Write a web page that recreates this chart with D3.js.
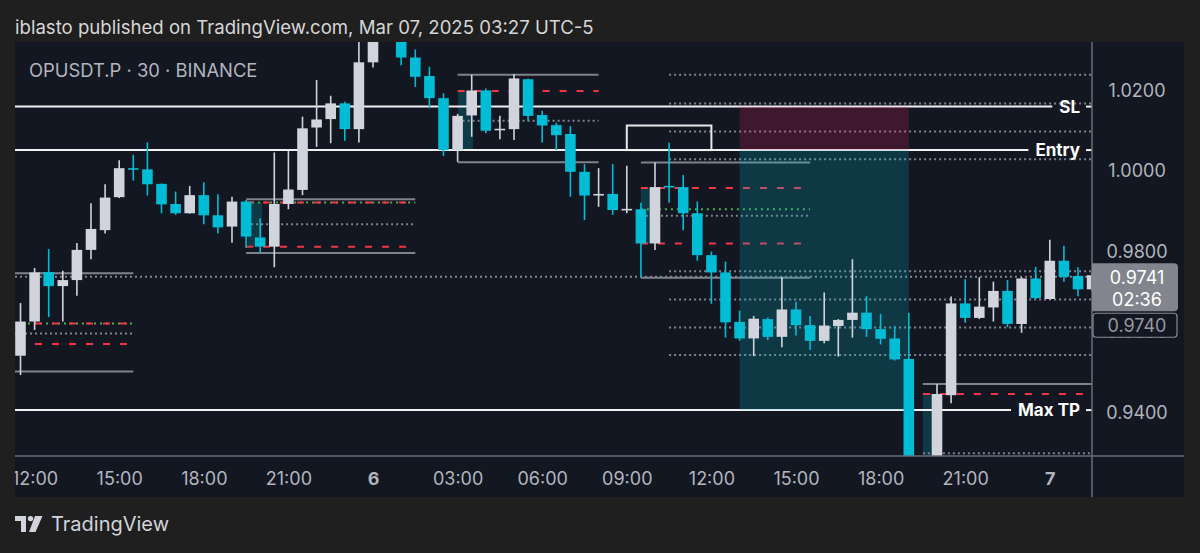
<!DOCTYPE html>
<html><head><meta charset="utf-8">
<script src="https://cdn.jsdelivr.net/npm/d3@7"></script>
<style>html,body{margin:0;padding:0;background:#1f1f1f;overflow:hidden}
text{font-family:Inter,"Noto Sans",sans-serif}</style>
</head><body><svg id="c" width="1200" height="553"></svg>
<script>
// ---------- DATA ----------
const candleStart = "2025-03-05T11:30:00Z"; // 30-minute candles
const opens = [0.9541,0.9626,0.9749,0.9714,0.9729,0.9804,0.9853,0.9935,1.0007,1.0004,0.9968,0.9918,0.9895,0.9940,0.9890,0.9862,0.9924,0.9835,0.9812,0.9918,0.9953,1.0108,1.0129,1.0168,1.0104,1.0270,1.0350,1.0340,1.0282,1.0236,1.0181,1.0052,1.0138,1.0200,1.0104,1.0104,1.0228,1.0139,1.0114,1.0092,0.9998,0.9942,0.9943,0.9905,0.9905,0.9820,0.9963,0.9960,0.9895,0.9791,0.9748,0.9625,0.9584,0.9632,0.9588,0.9656,0.9617,0.9578,0.9615,0.9630,0.9648,0.9607,0.9584,0.9533,0.9265,0.9268,0.9443,0.9671,0.9635,0.9661,0.9702,0.9620,0.9733,0.9682,0.9777,0.9739,0.9706];
const highs = [0.9672,0.9759,0.9806,0.9752,0.9821,0.9920,0.9967,1.0027,1.0040,1.0071,0.9969,0.9949,0.9963,0.9972,0.9942,0.9936,0.9928,0.9882,1.0046,1.0050,1.0135,1.0226,1.0187,1.0172,1.0335,1.0380,1.0400,1.0345,1.0302,1.0259,1.0193,1.0142,1.0239,1.0205,1.0137,1.0241,1.0229,1.0150,1.0120,1.0112,1.0017,1.0007,1.0017,1.0013,0.9921,1.0021,1.0070,0.9990,0.9924,0.9800,0.9775,0.9653,0.9640,0.9636,0.9736,0.9675,0.9640,0.9698,0.9632,0.9781,0.9689,0.9645,0.9615,0.9648,0.9285,0.9471,0.9688,0.9731,0.9736,0.9725,0.9729,0.9736,0.9762,0.9829,0.9814,0.9761,0.9748];
const lows = [0.9493,0.9605,0.9637,0.9626,0.9690,0.9781,0.9845,0.9933,0.9976,0.9939,0.9895,0.9891,0.9894,0.9868,0.9845,0.9822,0.9809,0.9796,0.9761,0.9905,0.9940,1.0060,1.0069,1.0075,1.0071,1.0257,1.0328,1.0263,1.0209,1.0156,1.0037,1.0023,1.0085,1.0094,1.0079,1.0077,1.0125,1.0071,1.0052,0.9936,0.9878,0.9911,0.9891,0.9895,0.9737,0.9804,0.9921,0.9853,0.9777,0.9670,0.9586,0.9578,0.9540,0.9580,0.9562,0.9591,0.9555,0.9572,0.9539,0.9586,0.9588,0.9569,0.9529,0.9240,0.9235,0.9250,0.9423,0.9623,0.9632,0.9626,0.9612,0.9598,0.9682,0.9681,0.9725,0.9689,0.9700];
const closes = [0.9626,0.9748,0.9714,0.9729,0.9804,0.9856,0.9934,1.0007,1.0006,0.9967,0.9917,0.9895,0.9940,0.9890,0.9860,0.9924,0.9837,0.9812,0.9918,0.9954,1.0106,1.0128,1.0168,1.0104,1.0270,1.0350,1.0345,1.0282,1.0234,1.0181,1.0052,1.0137,1.0200,1.0100,1.0105,1.0230,1.0137,1.0113,1.0089,0.9998,0.9939,0.9943,0.9903,0.9906,0.9820,0.9960,0.9959,0.9895,0.9791,0.9748,0.9624,0.9584,0.9633,0.9588,0.9656,0.9617,0.9578,0.9616,0.9630,0.9648,0.9607,0.9583,0.9532,0.9265,0.9270,0.9446,0.9671,0.9635,0.9663,0.9702,0.9620,0.9733,0.9684,0.9777,0.9737,0.9706,0.9741];

const priceTicks = [0.94, 0.96, 0.98, 1.00, 1.02];
const timeTicks = ["2025-03-05T12:00:00Z","2025-03-05T15:00:00Z","2025-03-05T18:00:00Z","2025-03-05T21:00:00Z","2025-03-06T00:00:00Z","2025-03-06T03:00:00Z","2025-03-06T06:00:00Z","2025-03-06T09:00:00Z","2025-03-06T12:00:00Z","2025-03-06T15:00:00Z","2025-03-06T18:00:00Z","2025-03-06T21:00:00Z","2025-03-07T00:00:00Z"];
const timeTickLabels = ["12:00","15:00","18:00","21:00","6","03:00","06:00","09:00","12:00","15:00","18:00","21:00","7"];

const lastPrice = 0.9741, countdown = "02:36", markPrice = 0.9740;
const tradePrices = [1.0160, 1.0052, 0.9406];
const tradeLabels = ["SL", "Entry", "Max TP"];
const tradeSpan = ["2025-03-06T13:00:00Z", "2025-03-06T19:00:00Z"];

// drawn level zones: [from, to], levels, kinds, shade [from, to, top, bottom]
const zoneSpans = [
  ["2025-03-05T09:00:00Z","2025-03-05T15:30:00Z"],
  ["2025-03-05T19:30:00Z","2025-03-06T01:30:00Z"],
  ["2025-03-06T03:00:00Z","2025-03-06T08:00:00Z"],
  ["2025-03-06T09:30:00Z","2025-03-06T15:30:00Z"],
  ["2025-03-06T19:30:00Z","2025-03-07T06:00:00Z"]
];
const zoneLevels = [
  [0.9746, 0.9621, 0.9596, 0.9570, 0.9502],
  [0.9930, 0.9922, 0.9868, 0.9812, 0.9796],
  [1.0239, 1.0199, 1.0125, 1.0052, 1.0022],
  [1.0021, 0.9958, 0.9905, 0.9889, 0.9820, 0.9735],
  [0.9471, 0.9446, 0.9299]
];
const zoneKinds = [
  ["solid","redgreen","dotted","red","solid"],
  ["solid","redgreen","dotted","red","solid"],
  ["solid","red","dotted","redgreen","solid"],
  ["solid","red","green","dotted","red","solid"],
  ["solid","red","dotted"]
];
const zoneShades = [
  null,
  ["2025-03-05T19:34:00Z","2025-03-05T20:04:00Z", 0.9922, 0.9812],
  ["2025-03-06T03:01:00Z","2025-03-06T03:33:00Z", 1.0199, 1.0052],
  ["2025-03-06T09:30:00Z","2025-03-06T09:54:00Z", 0.9958, 0.9820],
  ["2025-03-06T19:30:00Z","2025-03-06T19:50:00Z", 0.9446, 0.9250]
];
const fibSpan = ["2025-03-06T10:30:00Z","2025-03-07T06:00:00Z"];
const fibLevels = [1.0239, 1.0168, 1.0098, 1.0029, 0.9751, 0.9681, 0.9611, 0.9543];
const rayLevel = 0.9737;
const boxSpan = ["2025-03-06T09:00:00Z","2025-03-06T12:00:00Z"];
const boxPrices = [1.0113, 1.0052];

// ---------- LAYOUT ----------
const svg = d3.select("#c");
const P = {l:15, r:1092, t:42, b:456, right:1184, bottom:497};
const x = d3.scaleUtc().domain([new Date("2025-03-06T00:00:00Z"), new Date("2025-03-07T00:00:00Z")]).range([373, 1049.8]);
const y = d3.scaleLinear().domain([0.94, 1.02]).range([412.5, 90.5]);
const T = s => new Date(s);
const t0 = T(candleStart).getTime();
const candles = opens.map((o,i)=>({t:new Date(t0 + i*1800000), o, h:highs[i], l:lows[i], c:closes[i]}));

svg.append("rect").attr("width",1200).attr("height",553).attr("fill","#1f1f1f");
svg.append("text").attr("x",15).attr("y",34).attr("fill","#d6d6d6").attr("font-size",18.6)
  .text("iblasto published on TradingView.com, Mar 07, 2025 03:27 UTC-5");
svg.append("rect").attr("x",P.l).attr("y",P.t).attr("width",P.right-P.l).attr("height",P.bottom-P.t)
  .attr("fill","#131722").attr("rx",2);

const defs = svg.append("defs");
defs.append("clipPath").attr("id","plot").append("rect")
  .attr("x",P.l).attr("y",P.t).attr("width",P.r-P.l).attr("height",P.b-P.t);
defs.append("clipPath").attr("id","xclip").append("rect")
  .attr("x",P.l).attr("y",P.b).attr("width",P.r-P.l).attr("height",P.bottom-P.b);
const g = svg.append("g").attr("clip-path","url(#plot)");

const GRAY = "#80838d", RED = "#f23645", GREEN = "#4caf50";
function level(x1, x2, p, kind){
  const yy = y(p);
  const ln = () => g.append("line").attr("x1",x1).attr("x2",x2).attr("y1",yy).attr("y2",yy);
  if(kind==="solid") ln().attr("stroke",GRAY).attr("stroke-width",2);
  else if(kind==="dotted") ln().attr("stroke",GRAY).attr("stroke-width",2).attr("stroke-dasharray","2,3");
  else if(kind==="red") ln().attr("stroke",RED).attr("stroke-width",2).attr("stroke-dasharray","7,10");
  else if(kind==="green") ln().attr("stroke",GREEN).attr("stroke-width",2).attr("stroke-dasharray","2,4");
  else if(kind==="redgreen"){
    ln().attr("stroke",GREEN).attr("stroke-width",2).attr("stroke-dasharray","2,4");
    ln().attr("stroke",RED).attr("stroke-width",2).attr("stroke-dasharray","7,10");
  }
}

// long dotted ray
g.append("line").attr("x1",P.l).attr("x2",P.r).attr("y1",y(rayLevel)).attr("y2",y(rayLevel))
  .attr("stroke",GRAY).attr("stroke-width",2).attr("stroke-dasharray","2,3");
// fib dotted levels
fibLevels.forEach(p=>g.append("line").attr("x1",x(T(fibSpan[0]))).attr("x2",x(T(fibSpan[1])))
  .attr("y1",y(p)).attr("y2",y(p)).attr("stroke",GRAY).attr("stroke-width",2).attr("stroke-dasharray","2,3"));

// zones
zoneSpans.forEach((sp,k)=>{
  const sh = zoneShades[k];
  if(sh) g.append("rect").attr("x",x(T(sh[0]))).attr("width",x(T(sh[1]))-x(T(sh[0])))
    .attr("y",y(sh[2])).attr("height",y(sh[3])-y(sh[2])).attr("fill","#0e3a46");
  zoneLevels[k].forEach((p,j)=>level(x(T(sp[0])), x(T(sp[1])), p, zoneKinds[k][j]));
});

// white rectangle
g.append("rect").attr("x",x(T(boxSpan[0]))).attr("y",y(boxPrices[0]))
  .attr("width",x(T(boxSpan[1]))-x(T(boxSpan[0]))).attr("height",y(boxPrices[1])-y(boxPrices[0]))
  .attr("fill","none").attr("stroke","#e8e8e8").attr("stroke-width",2);

// trade lines
const labelRight = 1080;
const tl = svg.append("g");
tradePrices.forEach((p,k)=>{
  const t = tl.append("text").attr("x",labelRight).attr("y",y(p)).attr("dy","0.36em")
    .attr("text-anchor","end").attr("fill","#ffffff").attr("font-size",17).attr("font-weight",700)
    .text(tradeLabels[k]);
  const w = t.node().getComputedTextLength();
  g.append("line").attr("x1",P.l).attr("x2",labelRight-w-7).attr("y1",y(p)).attr("y2",y(p))
    .attr("stroke","#f0f0f0").attr("stroke-width",2);
  tl.append("line").attr("x1",1086).attr("x2",P.r).attr("y1",y(p)).attr("y2",y(p))
    .attr("stroke","#f0f0f0").attr("stroke-width",2);
});

// position boxes
const bx1 = x(T(tradeSpan[0])), bx2 = x(T(tradeSpan[1]));
g.append("rect").attr("x",bx1).attr("width",bx2-bx1).attr("y",y(tradePrices[0]))
  .attr("height",y(tradePrices[1])-y(tradePrices[0])).attr("fill","rgba(233,30,99,0.2)");
g.append("rect").attr("x",bx1).attr("width",bx2-bx1).attr("y",y(tradePrices[1]))
  .attr("height",y(tradePrices[2])-y(tradePrices[1])).attr("fill","rgba(0,188,212,0.2)");

// candles
const UP = "#d1d4dc", DOWN = "#00bcd4";
const cw = 10.6;
const cg = g.append("g");
cg.selectAll("line.w").data(candles).join("line").attr("class","w")
  .attr("x1",d=>x(d.t)).attr("x2",d=>x(d.t)).attr("y1",d=>y(d.h)).attr("y2",d=>y(d.l))
  .attr("stroke",d=>d.c>=d.o?UP:DOWN).attr("stroke-width",1.6);
cg.selectAll("rect.b").data(candles).join("rect").attr("class","b")
  .attr("x",d=>x(d.t)-cw/2).attr("width",cw)
  .attr("y",d=>y(Math.max(d.o,d.c))).attr("height",d=>Math.max(1.6, Math.abs(y(d.o)-y(d.c))))
  .attr("fill",d=>d.c>=d.o?UP:DOWN);

// title
svg.append("text").attr("x",29).attr("y",70).attr("dy","0.36em").attr("fill","#b2b5be")
  .attr("font-size",18.4).text("OPUSDT.P · 30 · BINANCE");

// axes frame
svg.append("line").attr("x1",P.l).attr("x2",P.right).attr("y1",P.b).attr("y2",P.b).attr("stroke","#6a6d78").attr("stroke-width",1.5);
svg.append("line").attr("x1",P.r).attr("x2",P.r).attr("y1",P.t).attr("y2",P.bottom).attr("stroke","#6a6d78").attr("stroke-width",1.5);

// x axis (wrapped so clip is in global coordinates)
const xwrap = svg.append("g").attr("clip-path","url(#xclip)");
const xa = xwrap.append("g").attr("transform",`translate(0,${P.b})`)
  .call(d3.axisBottom(x).tickValues(timeTicks.map(T)).tickSize(0).tickPadding(0)
    .tickFormat((d,i)=>timeTickLabels[i]));
xa.select(".domain").remove();
xa.selectAll("text").attr("y",23).attr("dy","0.36em").attr("fill","#b2b5be").attr("font-size",18)
  .attr("font-family","Inter,sans-serif")
  .attr("font-weight",(d,i)=>/:/.test(timeTickLabels[i])?400:700);

// y axis
const ya = svg.append("g").attr("transform",`translate(1137,0)`)
  .call(d3.axisRight(y).tickValues(priceTicks).tickSize(0).tickPadding(0).tickFormat(d3.format(".4f")));
ya.select(".domain").remove();
ya.selectAll("text").attr("text-anchor","middle").attr("fill","#b2b5be").attr("font-size",18)
  .attr("font-family","Inter,sans-serif");

// last price label
const ly = y(lastPrice);
svg.append("path").attr("d",`M${P.r},${ly-12} h82 a4,4 0 0 1 4,4 v40 a4,4 0 0 1 -4,4 h-82 z`).attr("fill","#82858d");
svg.append("text").attr("x",1137).attr("y",ly+2).attr("dy","0.36em").attr("text-anchor","middle")
  .attr("fill","#ffffff").attr("font-size",18).text(d3.format(".4f")(lastPrice));
svg.append("text").attr("x",1137).attr("y",ly+24).attr("dy","0.36em").attr("text-anchor","middle")
  .attr("fill","#ffffff").attr("font-size",18).text(countdown);
// mark price label (stacked below)
svg.append("rect").attr("x",P.r+1).attr("y",ly+38).attr("width",84).attr("height",24).attr("rx",3)
  .attr("fill","#131722").attr("stroke","#868993").attr("stroke-width",1.2);
svg.append("text").attr("x",1137).attr("y",ly+50.5).attr("dy","0.36em").attr("text-anchor","middle")
  .attr("fill","#9598a1").attr("font-size",18).text(d3.format(".4f")(markPrice));

// footer logo
const lg = svg.append("g").attr("fill","#d1d4dc");
lg.append("path").attr("d","M15,516 h11 v16 h-5 v-11 h-6 z");
lg.append("circle").attr("cx",30.5).attr("cy",518.6).attr("r",2.7);
lg.append("path").attr("d","M35,516 h7.5 l-7,16 h-6.5 z");
svg.append("text").attr("x",51).attr("y",524).attr("dy","0.36em").attr("fill","#d1d4dc")
  .attr("font-size",20).text("TradingView");
</script></body></html>
